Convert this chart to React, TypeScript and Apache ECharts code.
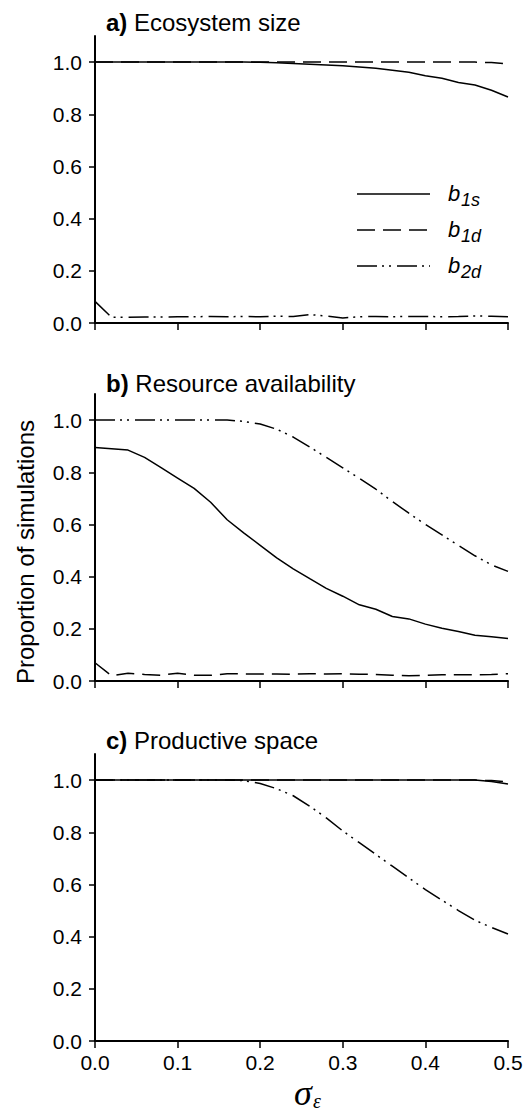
import React, { useEffect, useRef } from "react";
import * as echarts from "echarts";

// x values (sigma_epsilon)
const sigma = [0, 0.02, 0.04, 0.06, 0.08, 0.1, 0.12, 0.14, 0.16, 0.18, 0.2, 0.22, 0.24, 0.26, 0.28, 0.3, 0.32, 0.34, 0.36, 0.38, 0.4, 0.42, 0.44, 0.46, 0.48, 0.5];

// a) Ecosystem size
const aB1s = [1, 1, 1, 1, 1, 1, 1, 1, 1, 1, 0.999, 0.997, 0.995, 0.992, 0.989, 0.986, 0.981, 0.976, 0.969, 0.961, 0.948, 0.938, 0.922, 0.912, 0.892, 0.866];
const aB1d = [1, 1, 1, 1, 1, 1, 1, 1, 1, 1, 1, 1, 1, 1, 1, 1, 1, 1, 1, 1, 1, 1, 1, 1, 0.998, 0.993];
const aB2d = [0.083, 0.022, 0.022, 0.023, 0.023, 0.024, 0.024, 0.025, 0.024, 0.025, 0.024, 0.026, 0.025, 0.032, 0.027, 0.019, 0.024, 0.025, 0.024, 0.025, 0.025, 0.024, 0.025, 0.027, 0.026, 0.024];

// b) Resource availability
const bB1s = [0.895, 0.89, 0.885, 0.857, 0.818, 0.778, 0.738, 0.685, 0.618, 0.568, 0.52, 0.472, 0.43, 0.392, 0.355, 0.325, 0.292, 0.275, 0.247, 0.238, 0.218, 0.202, 0.19, 0.175, 0.17, 0.163];
const bB1d = [0.07, 0.02, 0.03, 0.025, 0.022, 0.03, 0.022, 0.022, 0.028, 0.027, 0.027, 0.027, 0.026, 0.028, 0.027, 0.028, 0.026, 0.025, 0.022, 0.02, 0.022, 0.024, 0.024, 0.024, 0.025, 0.028];
const bB2d = [1, 1, 1, 1, 1, 1, 1, 1, 1, 0.995, 0.985, 0.965, 0.935, 0.897, 0.857, 0.817, 0.777, 0.735, 0.688, 0.643, 0.6, 0.56, 0.52, 0.48, 0.445, 0.42];

// c) Productive space
const cB1s = [1, 1, 1, 1, 1, 1, 1, 1, 1, 1, 1, 1, 1, 1, 1, 1, 1, 1, 1, 1, 1, 1, 1, 1, 0.995, 0.985];
const cB1d = [1, 1, 1, 1, 1, 1, 1, 1, 1, 1, 1, 1, 1, 1, 1, 1, 1, 1, 1, 1, 1, 1, 1, 1, 0.998, 0.993];
const cB2d = [1, 1, 1, 1, 1, 1, 1, 1, 1, 0.998, 0.987, 0.967, 0.94, 0.9, 0.855, 0.805, 0.76, 0.715, 0.67, 0.625, 0.58, 0.54, 0.5, 0.463, 0.435, 0.41];

const panelTitles = ["a)", "b)", "c)"];
const panelNames = ["Ecosystem size", "Resource availability", "Productive space"];
const yTicks = [0, 0.2, 0.4, 0.6, 0.8, 1.0];
const yAxisTitle = "Proportion of simulations";
const legendNames = [["b", "1s"], ["b", "1d"], ["b", "2d"]];

const FONT = "'Liberation Sans', Arial, Helvetica, sans-serif";
const SERIF = "'Liberation Serif', 'Times New Roman', serif";
const DASH = [18, 8];
const DASHDOT = [20, 5, 2, 5, 2, 6];

export default function App() {
  const ref = useRef<HTMLDivElement>(null);

  useEffect(() => {
    const chart = echarts.init(ref.current!, null, { renderer: "svg" });

    const gridTops = [36, 394, 754];
    const gridH = 287;
    const titleCenters = [22, 383, 740];

    const panels = [
      [aB1s, aB1d, aB2d],
      [bB1s, bB1d, bB2d],
      [cB1s, cB1d, cB2d],
    ];
    const styles = ["solid", DASH, DASHDOT];

    const series: any[] = [];
    panels.forEach((p, gi) => {
      p.forEach((arr, si) => {
        series.push({
          type: "line",
          xAxisIndex: gi,
          yAxisIndex: gi,
          data: sigma.map((x, i) => [x, arr[i]]),
          showSymbol: false,
          symbol: "none",
          silent: true,
          z: 3 - si,
          lineStyle: { color: "#000", width: 1.5, type: styles[si] as any },
        });
      });
    });

    const legendY = [194, 230, 266];
    const graphic: any[] = [];
    legendY.forEach((y, i) => {
      graphic.push({
        type: "line",
        shape: { x1: 357, y1: y, x2: 430, y2: y },
        style: { stroke: "#000", lineWidth: 1.5, lineDash: styles[i] === "solid" ? null : styles[i] },
      });
      graphic.push({
        type: "text",
        x: 448,
        y: y - 1,
        style: {
          text: legendNames[i][0],
          font: `italic 22px ${FONT}`,
          fill: "#000",
          align: "left",
          verticalAlign: "middle",
        },
      });
      graphic.push({
        type: "text",
        x: 461,
        y: y + 6,
        style: {
          text: legendNames[i][1],
          font: `italic 18px ${FONT}`,
          fill: "#000",
          align: "left",
          verticalAlign: "middle",
        },
      });
    });
    graphic.push({
      type: "text",
      x: 25,
      y: 552,
      rotation: Math.PI / 2,
      style: {
        text: yAxisTitle,
        font: `24px ${FONT}`,
        fill: "#000",
        align: "center",
        verticalAlign: "middle",
      },
    });
    graphic.push({
      type: "text",
      x: 294,
      y: 1093,
      style: {
        text: "\u03C3",
        font: `italic 36px ${SERIF}`,
        fill: "#000",
        align: "left",
        verticalAlign: "middle",
      },
    });
    graphic.push({
      type: "text",
      x: 313,
      y: 1101,
      style: {
        text: "\u03B5",
        font: `italic 20px ${SERIF}`,
        fill: "#000",
        align: "left",
        verticalAlign: "middle",
      },
    });

    const option: any = {
      animation: false,
      backgroundColor: "#fff",
      title: panelTitles.map((t, i) => ({
        left: 106,
        top: titleCenters[i] - 14,
        padding: 0,
        text: `{b|${t}} ${panelNames[i]}`,
        textStyle: {
          fontSize: 24,
          fontWeight: "normal",
          fontFamily: FONT,
          color: "#000",
          lineHeight: 28,
          rich: {
            b: { fontSize: 24, fontWeight: "bold", fontFamily: FONT, color: "#000", lineHeight: 28 },
          },
        },
      })),
      grid: gridTops.map((t) => ({ left: 95, right: 18, top: t, height: gridH, containLabel: false })),
      xAxis: [0, 1, 2].map((i) => ({
        gridIndex: i,
        type: "value",
        min: 0,
        max: 0.5,
        interval: 0.1,
        axisLine: { show: true, onZero: false, lineStyle: { color: "#000", width: 2 } },
        axisTick: { show: true, inside: false, length: 7, lineStyle: { color: "#000", width: 1.5 } },
        axisLabel: {
          show: i === 2,
          margin: 11,
          fontSize: 21,
          fontFamily: FONT,
          color: "#000",
          formatter: (v: number) => v.toFixed(1),
        },
        splitLine: { show: false },
      })),
      yAxis: [0, 1, 2].map((i) => ({
        gridIndex: i,
        type: "value",
        min: 0,
        max: 1.1,
        axisLine: { show: true, onZero: false, lineStyle: { color: "#000", width: 2 } },
        axisTick: { show: true, inside: false, length: 6, customValues: yTicks, lineStyle: { color: "#000", width: 1.5 } },
        axisLabel: {
          show: true,
          customValues: yTicks,
          margin: 13,
          fontSize: 21,
          fontFamily: FONT,
          color: "#000",
          formatter: (v: number) => v.toFixed(1),
        },
        splitLine: { show: false },
      })),
      series,
      graphic,
    };

    chart.setOption(option);
    return () => chart.dispose();
  }, []);

  return (
    <div
      ref={ref}
      style={{ position: "absolute", left: 0, top: 0, width: 526, height: 1115, background: "#fff" }}
    />
  );
}
